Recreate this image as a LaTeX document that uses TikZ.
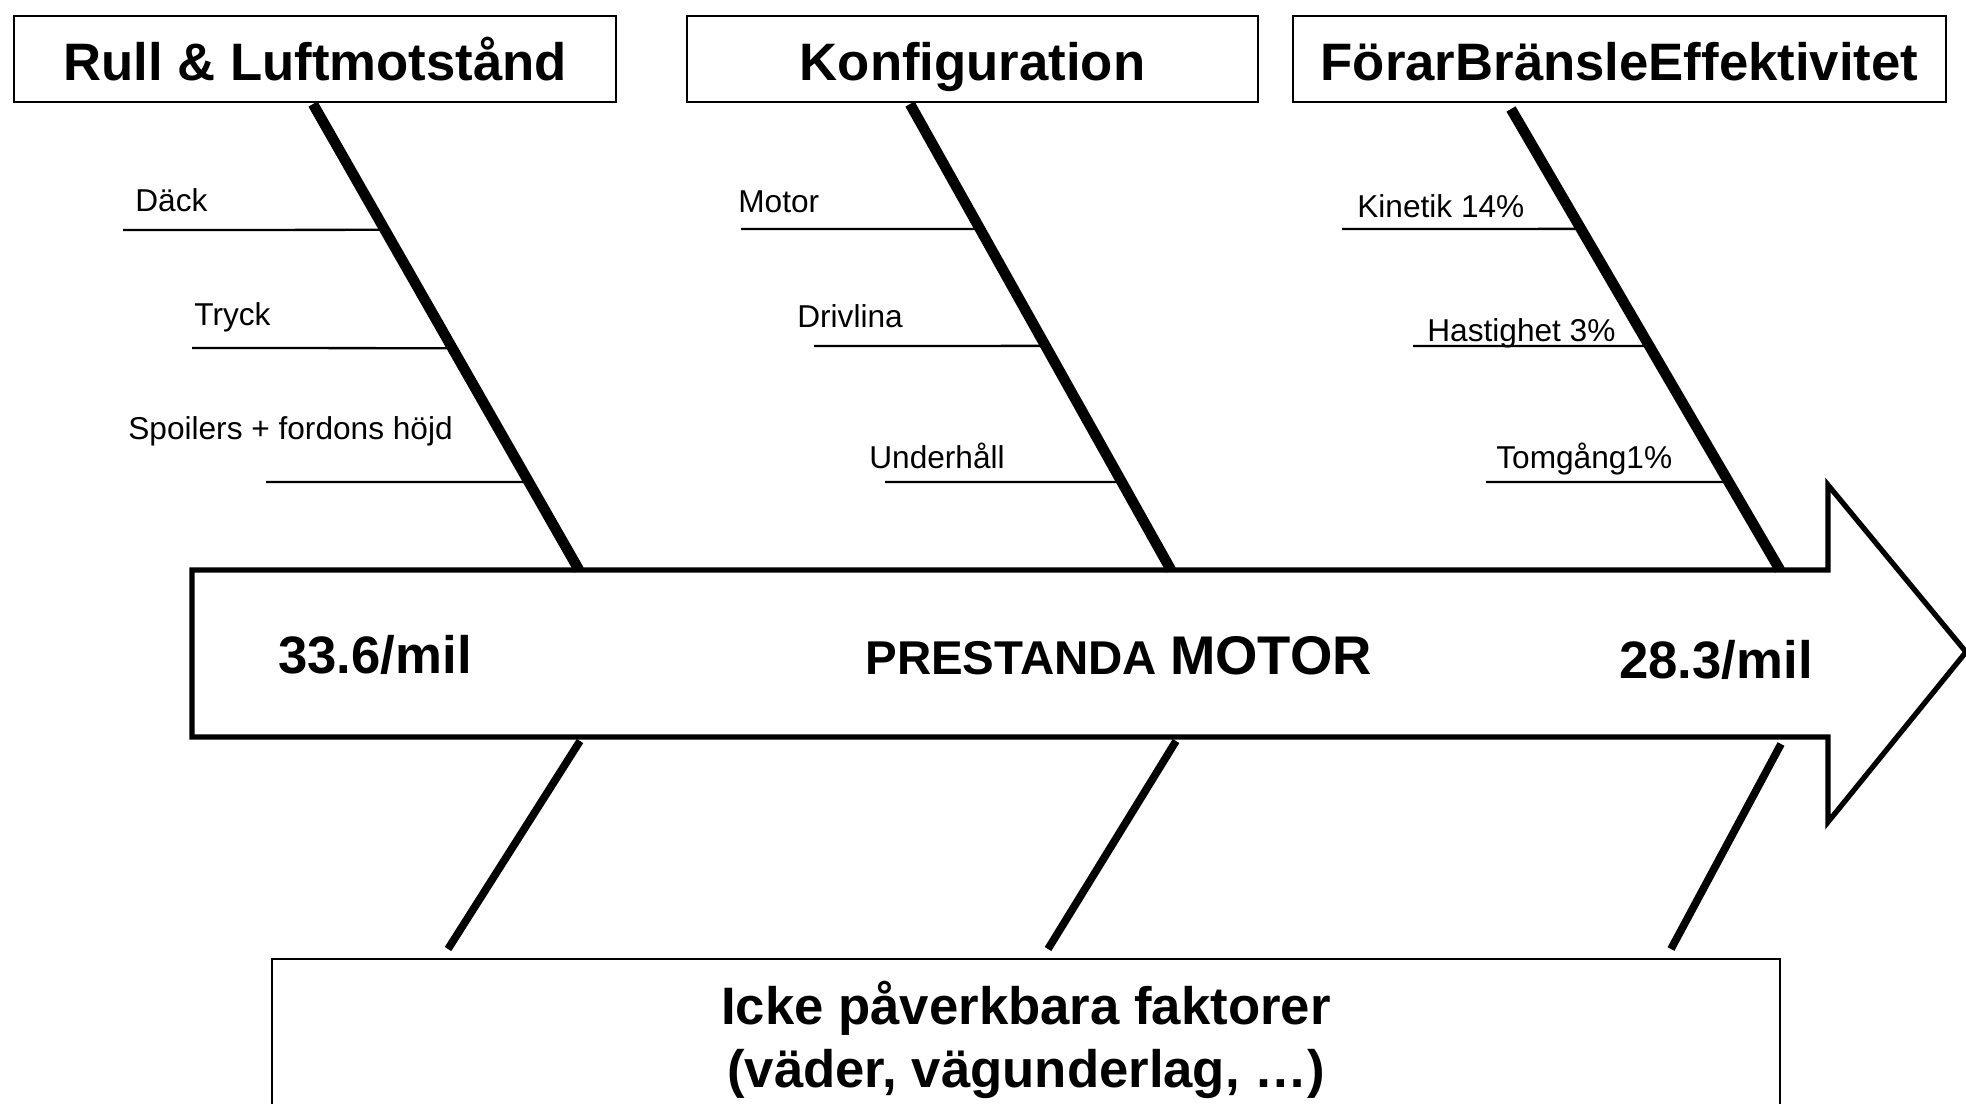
\documentclass[tikz,border=0pt]{standalone}
\usepackage{fontspec}
\setmainfont{Liberation Sans}
\usepackage{tikz}
\usetikzlibrary{calc}
\tikzset{
  head/.style={draw, line width=0.9pt, inner sep=0pt, text height=24pt, text depth=0pt,
    font={\bfseries\fontsize{30pt}{36pt}\selectfont}},
  big/.style={inner sep=0pt, font={\bfseries\fontsize{30pt}{36pt}\selectfont}},
  lbl/.style={anchor=base west, inner sep=0pt, font={\fontsize{18pt}{22pt}\selectfont}},
  spine/.style={line width=3pt, line join=miter},
  bone/.style={line width=6pt},
  lowbone/.style={line width=4.4pt},
  twig/.style={line width=1.3pt}}

\begin{document}
\begin{tikzpicture}[x=0.02cm,y=-0.02cm]
\clip (0,0) rectangle (1966,1103);
\node[head, minimum width=12.04cm, minimum height=1.72cm] (rull) at (315,59) {Rull \& Luftmotstånd};
\node[head, minimum width=11.42cm, minimum height=1.72cm] (konf) at (972.5,59) {Konfiguration};
\node[head, minimum width=13.06cm, minimum height=1.72cm] (forar) at (1619.5,59) {FörarBränsleEffektivitet};
\draw[spine] (192,570) -- (1828,570) -- (1828,485) -- (1966,652) -- (1828,822) -- (1828,737) -- (192,737) -- cycle;
\node[big, anchor=base west] (start) at (278,673) {33.6/mil};
\node[big, anchor=base west] (perf) at (865,674) {\fontsize{27pt}{30pt}\selectfont PRESTANDA \fontsize{31pt}{36pt}\selectfont MOTOR};
\node[big, anchor=base east] (goal) at (1813,678) {28.3/mil};
\node[head, minimum width=30.16cm, minimum height=4cm, anchor=north] (icke) at (1026,958) {};
\node[big, align=center] (ickeTxt) at (1026,1040) {Icke påverkbara faktorer\\(väder, vägunderlag, …)};
\coordinate (b1t) at (313,104);
\coordinate (b1b) at (579,570);
\coordinate (b2t) at (910,104);
\coordinate (b2b) at (1171,570);
\coordinate (b3t) at (1511,109);
\coordinate (b3b) at (1780,570);
\draw[bone] (b1t) -- (b1b);
\draw[bone] (b2t) -- (b2b);
\draw[bone] (b3t) -- (b3b);
\coordinate (l1t) at (580,741);
\coordinate (l1b) at (448,949);
\coordinate (l2t) at (1176,741);
\coordinate (l2b) at (1048,949);
\coordinate (l3t) at (1781,744);
\coordinate (l3b) at (1671,949);
\draw[lowbone] (l1t) -- (l1b);
\draw[lowbone] (l2t) -- (l2b);
\draw[lowbone] (l3t) -- (l3b);
\coordinate (daeck) at (123,230);
\coordinate (tryck) at (192,348);
\coordinate (spoil) at (266,482);
\coordinate (motor) at (741,229);
\coordinate (driv) at (814,346);
\coordinate (under) at (885,482);
\coordinate (kin) at (1342,229);
\coordinate (hast) at (1413,346);
\coordinate (tomg) at (1486,482);
\draw[twig] (daeck) -- ($(b1t)!0.270!(b1b)$);
\draw[twig] (tryck) -- ($(b1t)!0.524!(b1b)$);
\draw[twig] (spoil) -- ($(b1t)!0.811!(b1b)$);
\draw[twig] (motor) -- ($(b2t)!0.268!(b2b)$);
\draw[twig] (driv) -- ($(b2t)!0.519!(b2b)$);
\draw[twig] (under) -- ($(b2t)!0.811!(b2b)$);
\draw[twig] (kin) -- ($(b3t)!0.260!(b3b)$);
\draw[twig] (hast) -- ($(b3t)!0.514!(b3b)$);
\draw[twig] (tomg) -- ($(b3t)!0.809!(b3b)$);
\node[lbl] (daeckL) at (135,211) {Däck};
\node[lbl] (tryckL) at (194,325) {Tryck};
\node[lbl] (spoilL) at (128,439) {Spoilers + fordons höjd};
\node[lbl] (motorL) at (738,212) {Motor};
\node[lbl] (drivL) at (797,327) {Drivlina};
\node[lbl] (underL) at (869,468) {Underhåll};
\node[lbl] (kinL) at (1357,217) {Kinetik 14\%};
\node[lbl] (hastL) at (1427,341) {Hastighet 3\%};
\node[lbl] (tomgL) at (1496,468) {Tomgång1\%};
\end{tikzpicture}
\end{document}
